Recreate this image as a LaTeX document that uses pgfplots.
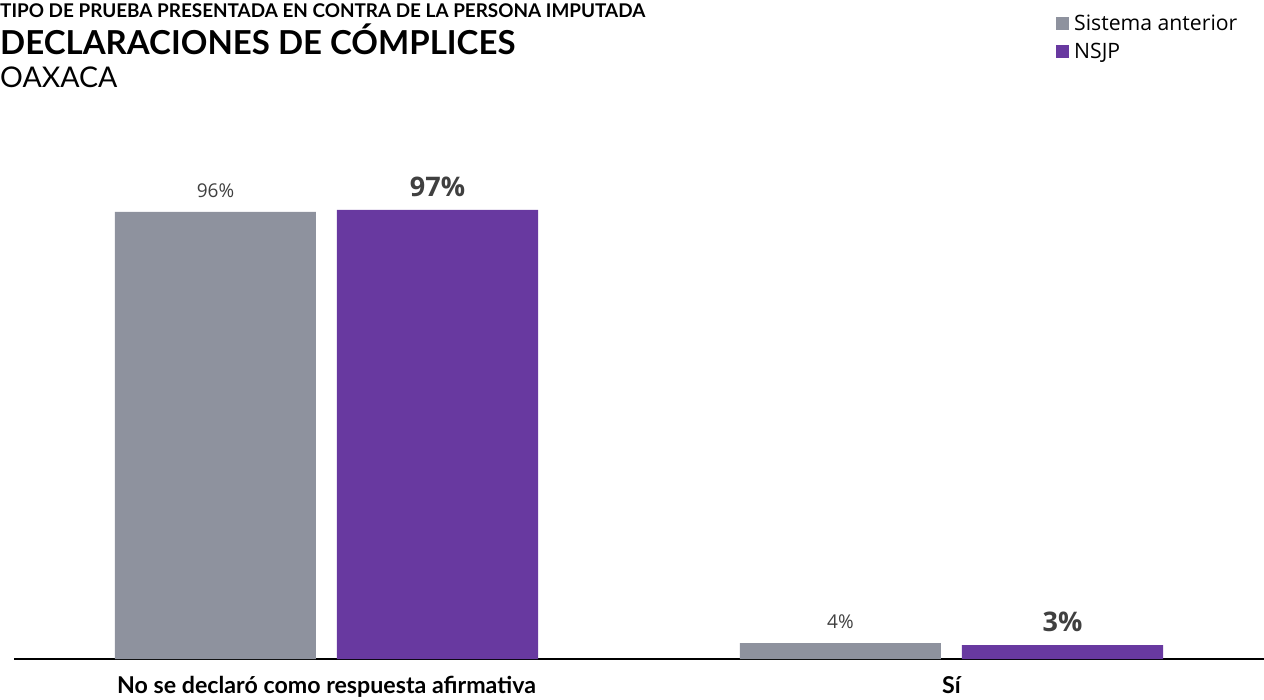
\documentclass[border=0pt]{standalone}
\usepackage{pgfplots}
\pgfplotsset{compat=1.18}
\usepackage{pgfplotstable}
\usepackage{fontspec}
\setmainfont{Lato}
\newfontfamily\opensans{Open Sans}
\definecolor{cgray}{RGB}{142,146,158}
\definecolor{cpurple}{RGB}{104,57,160}
\pgfplotstableread{
x y lab
0 96.56 96\%
1 3.44 4\%
}\anterior
\pgfplotstableread{
x y lab
0 97 97\%
1 3 3\%
}\nsjp
\begin{document}
\begin{tikzpicture}
\path[use as bounding box] (0,0) rectangle (1264bp,700bp);
\node[anchor=base west,inner sep=0pt,font=\fontsize{18.9bp}{22bp}\selectfont\bfseries] at (0bp,682bp) {TIPO DE PRUEBA PRESENTADA EN CONTRA DE LA PERSONA IMPUTADA};
\node[anchor=base west,inner sep=0pt,font=\fontsize{33bp}{38bp}\selectfont\bfseries] at (0bp,645bp) {DECLARACIONES DE CÓMPLICES};
\node[anchor=base west,inner sep=0pt,font=\fontsize{28.5bp}{34bp}\selectfont] at (0bp,612bp) {OAXACA};
\begin{axis}[
  at={(14bp,41bp)}, anchor=south west,
  scale only axis, width=1250bp, height=463bp,
  xmin=-0.5, xmax=1.5, ymin=0, ymax=100,
  axis x line=bottom, axis y line=none,
  x axis line style={-, black, line width=1.5bp},
  xtick={0,1},
  xticklabels={No se declaró como respuesta afirmativa, Sí},
  major tick length=0pt,
  xticklabel style={font=\fontsize{23.2bp}{27bp}\selectfont\bfseries, yshift=-14bp},
  ytick=\empty,
  clip=false,
  legend style={at={(0.8336,1.395)}, anchor=north west, draw=none, fill=none,
    font=\opensans\fontsize{21.2bp}{25bp}\selectfont, row sep=7bp, inner sep=0pt},
  legend cell align=left,
  legend image code/.code={\fill (0bp,-6.5bp) rectangle (13bp,6.5bp); \path (16bp,0bp);},
]
\addplot[ybar, bar width=201bp, bar shift=-111bp, fill=cgray, draw=none,
  point meta=explicit symbolic, nodes near coords,
  every node near coord/.append style={font=\opensans\fontsize{19bp}{22bp}\selectfont, text=black!75, xshift=-111bp, yshift=11bp}]
  table[x=x, y=y, meta=lab] {\anterior};
\addlegendentry{Sistema anterior}
\addplot[ybar, bar width=201bp, bar shift=111bp, fill=cpurple, draw=none,
  point meta=explicit symbolic, nodes near coords,
  every node near coord/.append style={font=\opensans\fontsize{27bp}{31bp}\selectfont\bfseries, text=black!75, xshift=111bp, yshift=10bp}]
  table[x=x, y=y, meta=lab] {\nsjp};
\addlegendentry{NSJP}
\end{axis}
\end{tikzpicture}
\end{document}
